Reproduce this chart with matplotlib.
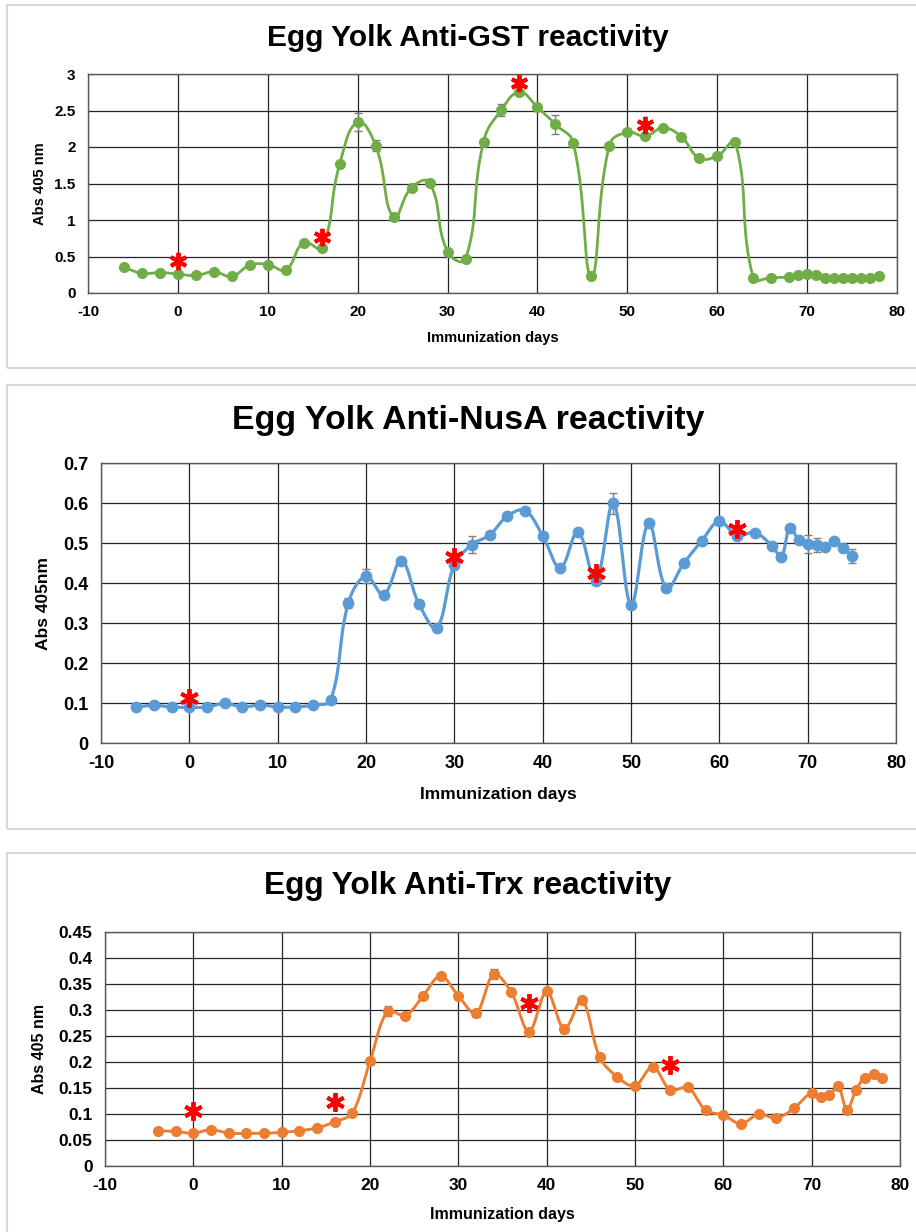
import numpy as np
import matplotlib
matplotlib.use('Agg')
import matplotlib.pyplot as plt
from matplotlib.patches import Rectangle

plt.rcParams['font.family'] = ['Liberation Sans', 'DejaVu Sans']
plt.rcParams['font.weight'] = 'bold'
plt.rcParams['axes.unicode_minus'] = False

# ---- Anti-GST ----
gst_days = [-6, -4, -2, 0, 2, 4, 6, 8, 10, 12, 14, 16, 18, 20, 22, 24, 26, 28, 30, 32,
            34, 36, 38, 40, 42, 44, 46, 48, 50, 52, 54, 56, 58, 60, 62,
            64, 66, 68, 69, 70, 71, 72, 73, 74, 75, 76, 77, 78]
gst_abs = [0.35, 0.27, 0.28, 0.26, 0.24, 0.29, 0.23, 0.38, 0.39, 0.32, 0.69, 0.62, 1.77,
           2.34, 2.02, 1.035, 1.445, 1.51, 0.565, 0.465, 2.07, 2.51, 2.75, 2.545, 2.31,
           2.05, 0.23, 2.02, 2.20, 2.15, 2.26, 2.14, 1.85, 1.88, 2.065,
           0.21, 0.21, 0.22, 0.24, 0.255, 0.24, 0.20, 0.205, 0.205, 0.20, 0.205, 0.21, 0.23]
gst_err = {20: 0.12, 22: 0.07, 24: 0.03, 36: 0.08, 42: 0.13, 50: 0.04, 56: 0.04}
gst_star_days = [0, 16, 38, 52]
gst_star_y = [0.44, 0.77, 2.87, 2.30]

# ---- Anti-NusA ----
nusa_days = [-6, -4, -2, 0, 2, 4, 6, 8, 10, 12, 14, 16, 18, 20, 22, 24, 26, 28, 30, 32,
             34, 36, 38, 40, 42, 44, 46, 48, 50, 52, 54, 56, 58, 60, 62, 64, 66, 67, 68,
             69, 70, 71, 72, 73, 74, 75]
nusa_abs = [0.09, 0.094, 0.09, 0.089, 0.09, 0.099, 0.09, 0.095, 0.09, 0.09, 0.095, 0.107,
            0.35, 0.417, 0.371, 0.456, 0.347, 0.288, 0.445, 0.496,
            0.52, 0.567, 0.581, 0.518, 0.438, 0.528, 0.405, 0.599, 0.346, 0.549, 0.387,
            0.45, 0.505, 0.554, 0.518, 0.526, 0.492, 0.465, 0.538,
            0.507, 0.497, 0.495, 0.49, 0.505, 0.488, 0.468]
nusa_err = {18: 0.012, 20: 0.018, 30: 0.01, 32: 0.022, 48: 0.027, 70: 0.022, 71: 0.018,
            74: 0.008, 75: 0.018}
nusa_star_days = [0, 30, 46, 62]
nusa_star_y = [0.112, 0.464, 0.424, 0.536]

# ---- Anti-Trx ----
trx_days = [-4, -2, 0, 2, 4, 6, 8, 10, 12, 14, 16, 18, 20, 22, 24, 26, 28, 30, 32,
            34, 36, 38, 40, 42, 44, 46, 48, 50, 52, 54, 56, 58, 60, 62, 64, 66, 68,
            70, 71, 72, 73, 74, 75, 76, 77, 78]
trx_abs = [0.068, 0.0665, 0.063, 0.070, 0.063, 0.0627, 0.063, 0.0646, 0.068, 0.073,
           0.085, 0.1017, 0.2014, 0.298, 0.289, 0.327, 0.3657, 0.327, 0.2935,
           0.369, 0.334, 0.258, 0.336, 0.263, 0.319, 0.209, 0.171, 0.154, 0.191, 0.146,
           0.151, 0.107, 0.098, 0.081, 0.100, 0.092, 0.111,
           0.141, 0.132, 0.136, 0.153, 0.107, 0.146, 0.170, 0.176, 0.169]
trx_err = {22: 0.01, 24: 0.006, 32: 0.006, 34: 0.01, 42: 0.008}
trx_star_days = [0, 16, 38, 54]
trx_star_y = [0.105, 0.124, 0.314, 0.194]

W, H = 916, 1232


def smooth(x, y, kx, ky, tension, n=30):
    # Bezier smoothing through every point; tangents weighted by the
    # on-screen segment lengths so short segments don't overshoot much
    P = np.column_stack([np.asarray(x, float) * kx, np.asarray(y, float) * ky])
    P = np.vstack([P[:1], P, P[-1:]])
    t = np.linspace(0, 1, n)[:, None]
    segs = []
    for i in range(1, len(P) - 2):
        p0, p1, p2, p3 = P[i - 1], P[i], P[i + 1], P[i + 2]
        d01 = np.hypot(*(p1 - p0))
        d12 = np.hypot(*(p2 - p1))
        d23 = np.hypot(*(p3 - p2))
        f1 = d12 / (d01 + d12) if d01 + d12 > 0 else 0
        f2 = d12 / (d12 + d23) if d12 + d23 > 0 else 0
        c1 = p1 + (p2 - p0) * f1 * tension
        c2 = p2 - (p3 - p1) * f2 * tension
        b = ((1 - t) ** 3) * p1 + 3 * ((1 - t) ** 2) * t * c1 + 3 * (1 - t) * t ** 2 * c2 + t ** 3 * p2
        segs.append(b if i == 1 else b[1:])
    pts = np.vstack(segs)
    return pts[:, 0] / kx, pts[:, 1] / ky


def rect_px(l, t, r, b):
    return [l / W, 1 - b / H, (r - l) / W, (b - t) / H]


def panel(fig, box, pos, days, vals, err, star_d, star_y, color, ymax, ystep,
          title, title_y, title_fs, ylabel, ylabel_x, xlabel_y, tick_fs, lab_fs,
          ms, lw, star_ms, tension):
    # light grey frame around each chart
    l, t, r, b = box
    fig.patches.append(Rectangle((l / W, 1 - b / H), (r - l) / W, (b - t) / H,
                                 transform=fig.transFigure, fill=False,
                                 edgecolor='#d9d9d9', lw=1.6))
    ax = fig.add_axes(rect_px(*pos))
    kx = (pos[2] - pos[0]) / 90.0
    ky = (pos[3] - pos[1]) / ymax
    sx, sy = smooth(days, vals, kx, ky, tension)
    ax.plot(sx, sy, color=color, lw=lw, zorder=3, solid_capstyle='round')
    ed = list(err.keys())
    ev = [vals[days.index(d)] for d in ed]
    ax.errorbar(ed, ev, yerr=list(err.values()), fmt='none', ecolor='#7f7f7f',
                elinewidth=1.0, capsize=3, capthick=1.0, zorder=2)
    ax.plot(days, vals, 'o', color=color, ms=ms, mec=color, zorder=4)
    ax.plot(star_d, star_y, ls='none', marker=(6, 2, 0), ms=star_ms, mew=2.8,
            color='#ff0000', zorder=5)
    ax.set_xlim(-10, 80)
    ax.set_ylim(0, ymax)
    ax.set_xticks(np.arange(-10, 81, 10))
    yt = np.round(np.arange(0, ymax + ystep / 2, ystep), 3)
    ax.set_yticks(yt)
    ax.set_yticklabels(['%g' % v for v in yt])
    ax.grid(True, color='#262626', lw=0.9)
    ax.set_axisbelow(True)
    for s in ax.spines.values():
        s.set_color('#595959')
        s.set_linewidth(1.0)
    ax.tick_params(length=0, labelsize=tick_fs, pad=9)
    for lbl in ax.get_xticklabels() + ax.get_yticklabels():
        lbl.set_fontweight('bold')
    cx = (pos[0] + pos[2]) / 2
    fig.text(468 / W, 1 - title_y / H, title, ha='center', va='center',
             fontsize=title_fs, fontweight='bold')
    fig.text(ylabel_x / W, 1 - (pos[1] + pos[3]) / 2 / H, ylabel, rotation=90,
             ha='center', va='center', fontsize=lab_fs, fontweight='bold')
    fig.text(cx / W, 1 - xlabel_y / H, 'Immunization days', ha='center', va='center',
             fontsize=lab_fs, fontweight='bold')
    return ax


fig = plt.figure(figsize=(W / 100, H / 100), dpi=100)

panel(fig, (7, 5, 930, 368), (88, 74, 897, 293), gst_days, gst_abs, gst_err,
      gst_star_days, gst_star_y, '#70ad47', 3, 0.5,
      'Egg Yolk Anti-GST reactivity', 38, 21.5, 'Abs 405 nm', 40, 338, 11, 10.5,
      7, 2.0, 12.5, 0.45)

panel(fig, (7, 385, 930, 829), (101, 463, 896, 743), nusa_days, nusa_abs, nusa_err,
      nusa_star_days, nusa_star_y, '#5b9bd5', 0.7, 0.1,
      'Egg Yolk Anti-NusA reactivity', 421, 24.4, 'Abs 405nm', 44, 795, 13, 12.5,
      7.5, 2.3, 13.5, 0.38)

panel(fig, (7, 853, 930, 1245), (105, 932, 900, 1166), trx_days, trx_abs, trx_err,
      trx_star_days, trx_star_y, '#ed7d31', 0.45, 0.05,
      'Egg Yolk Anti-Trx reactivity', 886, 22.8, 'Abs 405 nm', 40, 1215, 12.5, 11.5,
      7, 2.1, 13.5, 0.33)

fig.savefig('out.png', dpi=100)
